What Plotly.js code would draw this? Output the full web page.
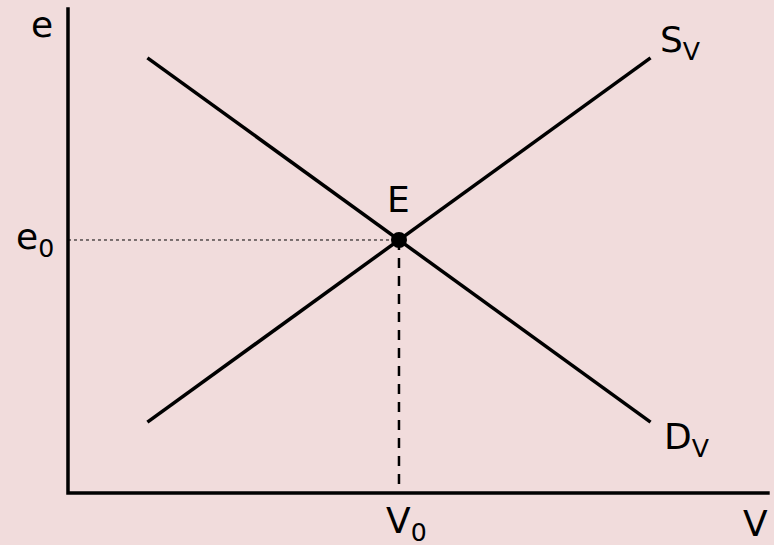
<!DOCTYPE html>
<html><head><meta charset="utf-8">
<script src="https://cdn.plot.ly/plotly-3.0.1.min.js"></script>
<style>html,body{margin:0;padding:0;background:#f1dcdc;}</style>
</head><body>
<div id="chart" style="width:774px;height:545px;"></div>
<script>
// Demand and supply lines (V = quantity, e = exchange rate)
const demandV = [1.2, 8.8];
const demandE = [8.6, 1.4];
const supplyV = [1.2, 8.8];
const supplyE = [1.4, 8.6];
const equilibriumV = [5];
const equilibriumE = [5];
const axisV = [0, 0, 10.6];
const axisE = [9.6, 0, 0];
const labelText = ['e', 'e<sub>0</sub>', 'E', 'V<sub>0</sub>', 'V', 'S<sub>V</sub>', 'D<sub>V</sub>'];

const V0 = equilibriumV[0], e0 = equilibriumE[0];
const font = {family: 'DejaVu Sans, Verdana, sans-serif', size: 36, color: '#000'};

const traces = [
  {x: axisV, y: axisE, mode: 'lines', line: {color: '#000', width: 3.5}, hoverinfo: 'skip'},
  {x: [0, V0], y: [e0, e0], mode: 'lines', line: {color: '#000', width: 1, dash: 'dot'}, hoverinfo: 'skip'},
  {x: [V0, V0], y: [e0, 0], mode: 'lines', line: {color: '#000', width: 2.5, dash: '10px,8px'}, hoverinfo: 'skip'},
  {x: demandV, y: demandE, mode: 'lines', line: {color: '#000', width: 3.5}},
  {x: supplyV, y: supplyE, mode: 'lines', line: {color: '#000', width: 3.5}},
  {x: equilibriumV, y: equilibriumE, mode: 'markers', marker: {color: '#000', size: 16}}
];

const annotations = [
  {x: -0.39, y: 9.25, text: labelText[0], xanchor: 'center', yanchor: 'middle'},
  {x: -0.18, y: e0, text: labelText[1], xanchor: 'right', yanchor: 'middle'},
  {x: V0, y: 5.8, text: labelText[2], xanchor: 'center', yanchor: 'middle'},
  {x: V0 + 0.12, y: -0.6, text: labelText[3], xanchor: 'center', yanchor: 'middle'},
  {x: 10.38, y: -0.6, text: labelText[4], xanchor: 'center', yanchor: 'middle'},
  {x: 8.92, y: 8.9, text: labelText[5], xanchor: 'left', yanchor: 'middle'},
  {x: 8.98, y: 1.05, text: labelText[6], xanchor: 'left', yanchor: 'middle'}
].map(a => Object.assign({showarrow: false, font: font, xref: 'x', yref: 'y'}, a));

const layout = {
  width: 774, height: 545,
  margin: {l: 0, r: 0, t: 0, b: 0},
  paper_bgcolor: '#f1dcdc', plot_bgcolor: '#f1dcdc',
  showlegend: false,
  xaxis: {range: [-1.027, 10.665], visible: false, fixedrange: true},
  yaxis: {range: [-1.028, 9.743], visible: false, fixedrange: true},
  annotations: annotations
};

Plotly.newPlot('chart', traces, layout, {displayModeBar: false, staticPlot: true});
</script>
</body></html>
